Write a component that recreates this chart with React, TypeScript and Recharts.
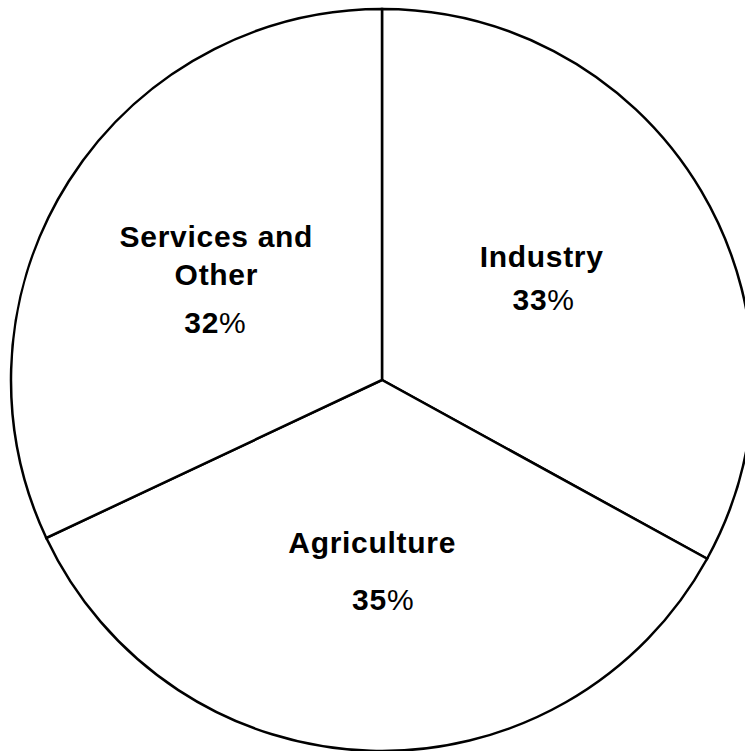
import React from 'react';
import { PieChart, Pie, Cell } from 'recharts';

// slice order runs clockwise from 12 o'clock
const sectors = ['Industry', 'Agriculture', 'Services and Other'];
const shares = [33, 35, 32];
const nameLines = [['Industry'], ['Agriculture'], ['Services and', 'Other']];
const shareLabels = ['33', '35', '32'];

const data = sectors.map((name, i) => ({ name, value: shares[i] }));

// label placement relative to the slice mid point (x shift per line, baselines)
const LABEL_LAYOUT = [
  { dx: [0, 2], dy: [-19, 24] },
  { dx: [-4, 7], dy: [-12, 45] },
  { dx: [-9, -9, -10], dy: [-34, 4, 52] },
];

const RADIAN = Math.PI / 180;
const FONT = "'Liberation Sans', Arial, sans-serif";

const renderLabel = (props: any) => {
  const { cx, cy, midAngle, outerRadius, index } = props;
  const r = outerRadius * 0.5;
  const x = cx + r * Math.cos(-midAngle * RADIAN);
  const y = cy + r * Math.sin(-midAngle * RADIAN);
  const lay = LABEL_LAYOUT[index];
  const lines = nameLines[index];
  const n = lines.length;
  return (
    <g key={`lbl-${index}`}>
      {lines.map((t, j) => (
        <text
          key={j}
          x={x + lay.dx[j]}
          y={y + lay.dy[j]}
          textAnchor="middle"
          fill="#000"
          fontFamily={FONT}
          fontWeight="bold"
          fontSize={30}
          letterSpacing={0.7}
        >
          {t}
        </text>
      ))}
      <text
        x={x + lay.dx[n]}
        y={y + lay.dy[n]}
        textAnchor="middle"
        fill="#000"
        fontFamily={FONT}
        fontSize={30}
        letterSpacing={0.7}
      >
        <tspan fontWeight="bold">{shareLabels[index]}</tspan>
        <tspan fontWeight="normal">%</tspan>
      </text>
    </g>
  );
};

export default function App() {
  return (
    <div
      style={{
        position: 'absolute',
        left: 0,
        top: 0,
        width: 745,
        height: 751,
        overflow: 'hidden',
        background: '#fff',
      }}
    >
      <PieChart width={745} height={751} margin={{ top: 0, right: 0, bottom: 0, left: 0 }}>
        <Pie
          data={data}
          dataKey="value"
          nameKey="name"
          cx={382}
          cy={380}
          outerRadius={371}
          startAngle={90}
          endAngle={-270}
          stroke="#000"
          strokeWidth={2.5}
          label={renderLabel}
          labelLine={false}
          isAnimationActive={false}
        >
          {data.map((d) => (
            <Cell key={d.name} fill="#fff" stroke="#000" strokeWidth={2.5} />
          ))}
        </Pie>
      </PieChart>
    </div>
  );
}
